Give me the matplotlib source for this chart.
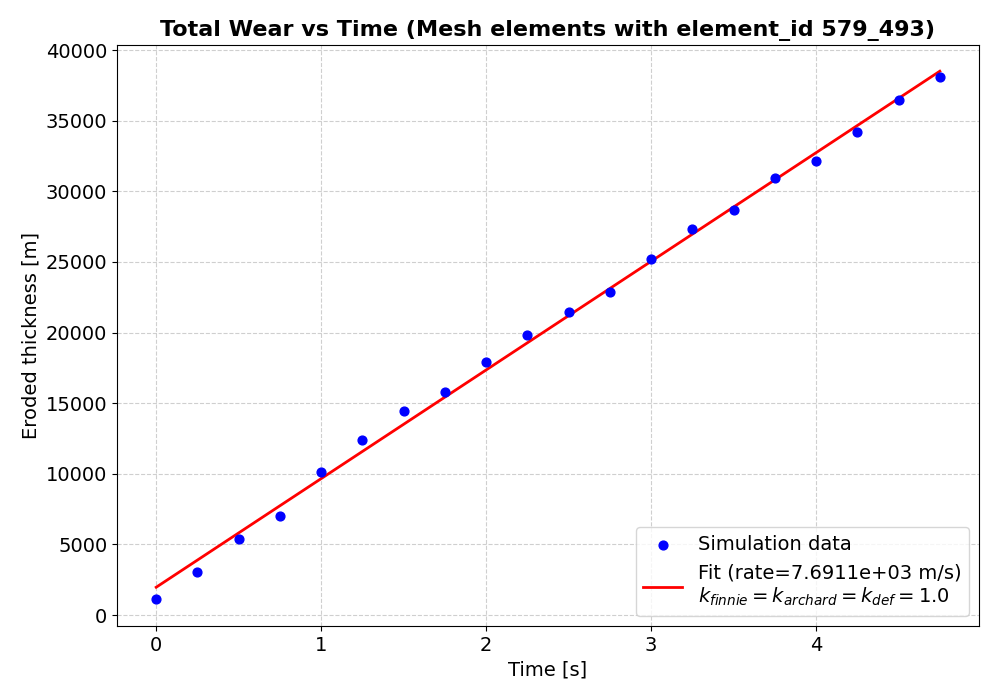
import numpy as np
import matplotlib
matplotlib.use("Agg")
import matplotlib.pyplot as plt

# Time samples [s] and total eroded thickness [m]
time = [0.0, 0.25, 0.5, 0.75, 1.0, 1.25, 1.5, 1.75, 2.0, 2.25,
        2.5, 2.75, 3.0, 3.25, 3.5, 3.75, 4.0, 4.25, 4.5, 4.75]
thickness = [1110, 3030, 5370, 7000, 10140, 12410, 14450, 15820, 17920, 19860,
             21470, 22890, 25180, 27300, 28700, 30970, 32180, 34230, 36430, 38060]

# Linear fit parameters
fit_rate = 7691.1
fit_intercept = 1970.0

t = np.array(time)
fit_line = fit_rate * t + fit_intercept

fig, ax = plt.subplots(figsize=(10, 7), dpi=100)

ax.scatter(t, thickness, color='blue', s=40, label='Simulation data', zorder=3)
ax.plot(t, fit_line, color='red', linewidth=2,
        label=f'Fit (rate={fit_rate:.4e} m/s)\n'
              r'$k_{finnie} = k_{archard} = k_{def} = 1.0$')

ax.set_xlabel('Time [s]', fontsize=14)
ax.set_ylabel('Eroded thickness [m]', fontsize=14)
ax.set_title('Total Wear vs Time (Mesh elements with element_id 579_493)',
             fontsize=16, fontweight='bold')
ax.tick_params(labelsize=14)
ax.grid(True, linestyle='--', alpha=0.6)
ax.legend(fontsize=14, loc='lower right')

fig.subplots_adjust(left=0.117, right=0.979, top=0.936, bottom=0.106)
fig.savefig('out.png', dpi=100)
